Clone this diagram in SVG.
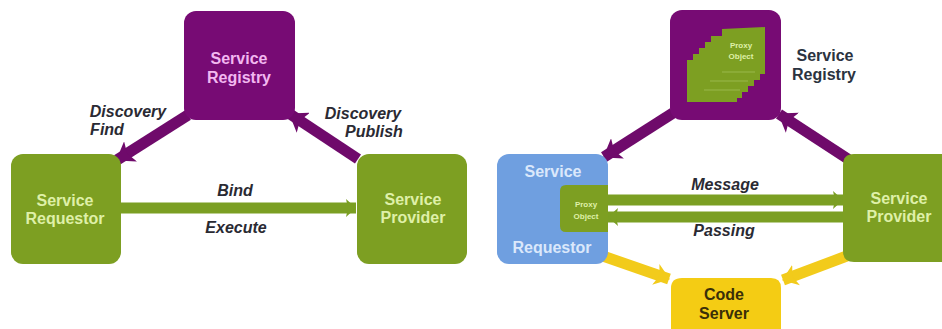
<svg xmlns="http://www.w3.org/2000/svg" width="942" height="329" viewBox="0 0 942 329">
<defs>
<marker id="ap" markerUnits="userSpaceOnUse" markerWidth="18" markerHeight="24" refX="16" refY="12" orient="auto"><path d="M0 0L17 12L0 24L4 12Z" fill="#6f0a6b"/></marker>
<marker id="ag" markerUnits="userSpaceOnUse" markerWidth="12" markerHeight="20" refX="11" refY="10" orient="auto"><path d="M1 1L11 10L1 19L3 10Z" fill="#7b9f23"/></marker>
<marker id="ay" markerUnits="userSpaceOnUse" markerWidth="16" markerHeight="22" refX="14" refY="11" orient="auto"><path d="M0 0L15 11L0 22L4 11Z" fill="#f2cb1b"/></marker>
</defs>
<style>
text{font-family:"Liberation Sans",Arial,sans-serif;font-weight:700;text-anchor:middle}
.n{font-size:16px}
.l{font-size:16px;font-style:italic;fill:#2a2a33}
.g{fill:#7d9f22}
.p{fill:#770b74}
.w{fill:#dff0a8}
.pc{stroke:#6f0a6b;stroke-width:11;fill:none;marker-end:url(#ap)}
.gc{stroke:#7b9f23;stroke-width:11;fill:none;marker-end:url(#ag)}
.yc{stroke:#f2cb1b;stroke-width:11;fill:none;marker-end:url(#ay)}
</style>
<rect width="942" height="329" fill="#fff"/>
<g id="connectors">
<path class="pc" d="M188 115L117 160"/>
<path class="pc" d="M358 159L290 114"/>
<path class="gc" d="M121 208H356"/>
<path class="pc" d="M673 113L604 157"/>
<path class="pc" d="M848 159L779 114"/>
<path class="gc" d="M608 200H843"/>
<path class="gc" d="M843 217H608"/>
<path class="yc" d="M600 255L669 279"/>
<path class="yc" d="M852 254L783 280"/>
</g>
<g id="service-registry-left"><rect class="p" x="184" y="11" width="111" height="109" rx="12"/><text class="n" x="239" y="64" fill="#f2b8f0">Service</text><text class="n" x="239" y="83" fill="#f2b8f0">Registry</text></g>
<g id="service-requestor-left"><rect class="g" x="11" y="154" width="110" height="110" rx="12"/><text class="n w" x="65" y="206">Service</text><text class="n w" x="65" y="224">Requestor</text></g>
<g id="service-provider-left"><rect class="g" x="357" y="154" width="110" height="110" rx="12"/><text class="n w" x="413" y="205">Service</text><text class="n w" x="413" y="223">Provider</text></g>
<g id="label-find"><text class="l" x="128" y="117">Discovery</text><text class="l" x="107" y="135">Find</text></g>
<g id="label-publish"><text class="l" x="363" y="119">Discovery</text><text class="l" x="374" y="137">Publish</text></g>
<g id="label-bind"><text class="l" x="235" y="196">Bind</text><text class="l" x="236" y="233">Execute</text></g>
<g id="service-registry-right"><rect class="p" x="670" y="10" width="111" height="110" rx="12"/><path class="g" d="M722 29L765 27V74H760V80H754V86H748V92H742V98H737V102H687V60H693V54H699V48H705V42H711V36H722Z"/><path d="M722 72H755M710 81H748M704 90H740" stroke="#9ab84a" stroke-width="1" fill="none"/><text x="741" y="48" font-size="8" class="w">Proxy</text><text x="741" y="59" font-size="8" class="w">Object</text></g>
<g id="label-registry-right"><text class="n" x="825" y="61" fill="#2b3340">Service</text><text class="n" x="824" y="80" fill="#2b3340">Registry</text></g>
<g id="service-requestor-right"><rect x="497" y="154" width="111" height="110" rx="12" fill="#6f9fe0"/><text class="n" x="553" y="177" fill="#dbe8fb">Service</text><text class="n" x="552" y="253" fill="#dbe8fb">Requestor</text></g>
<g id="proxy-object"><path class="g" d="M566 185H608V232H566Q560 232 560 226V191Q560 185 566 185Z"/><text x="586" y="207" font-size="8" class="w">Proxy</text><text x="586" y="219" font-size="8" class="w">Object</text></g>
<g id="service-provider-right"><path class="g" d="M942 154H854Q843 154 843 165V251Q843 262 854 262H942Z"/><text class="n w" x="899" y="204">Service</text><text class="n w" x="899" y="222">Provider</text></g>
<g id="label-message"><text class="l" x="725" y="190">Message</text><text class="l" x="724" y="236">Passing</text></g>
<g id="code-server"><path d="M682 278H771Q781 278 781 288V329H671V288Q671 278 682 278Z" fill="#f4cc14"/><text class="n" x="724" y="300" fill="#3a2f08">Code</text><text class="n" x="724" y="319" fill="#3a2f08">Server</text></g>
</svg>
